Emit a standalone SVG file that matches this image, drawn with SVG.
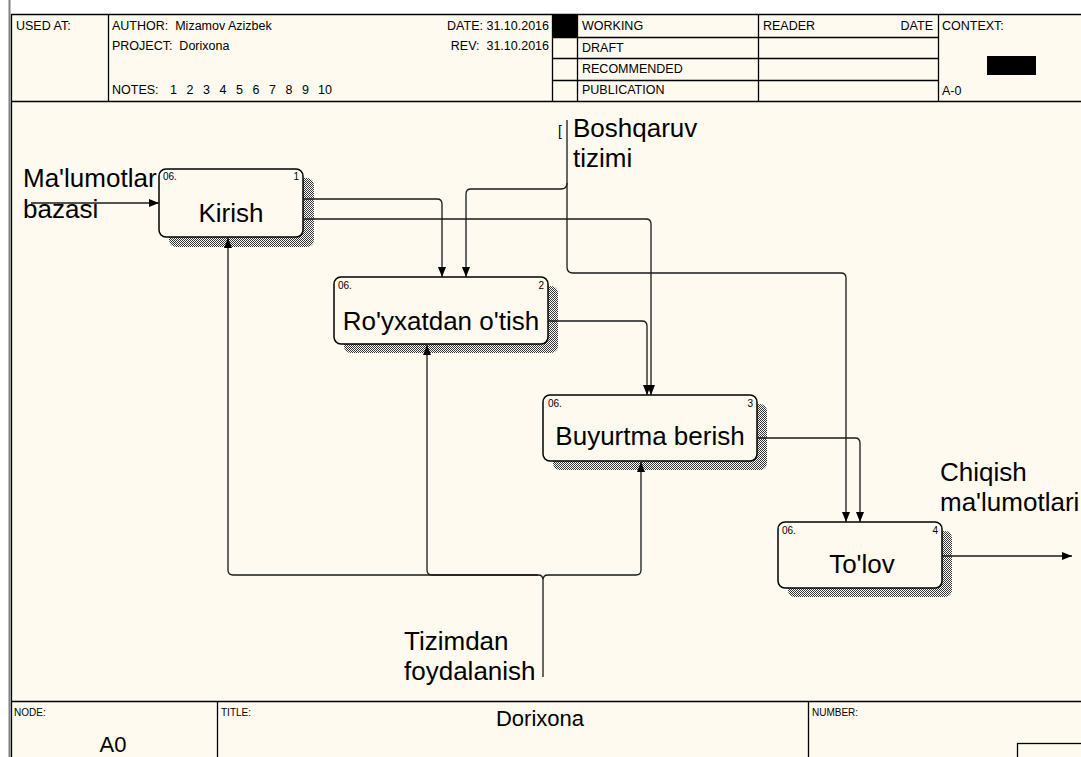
<svg xmlns="http://www.w3.org/2000/svg" width="1081" height="757" viewBox="0 0 1081 757">
<defs>
<style>
.t{font-family:"Liberation Sans",Arial,sans-serif;fill:#000}
.h{font-size:12.5px}
.s{font-size:10px}
.lbl{font-size:26px}
.big{font-size:22px}
.fr{stroke:#000;stroke-width:1.3;fill:none}
.box{fill:#FFFAEF;stroke:#000;stroke-width:1.5}
.sh{fill:url(#hatch)}
.c{fill:none;stroke:#1a1a1a;stroke-width:1.3}
.a{marker-end:url(#ah)}
</style>
<pattern id="hatch" width="2" height="2" patternUnits="userSpaceOnUse"><rect width="2" height="2" fill="#fff"/><rect width="1" height="1" fill="#333"/><rect x="1" y="1" width="1" height="1" fill="#333"/></pattern>
<marker id="ah" markerWidth="10" markerHeight="8" refX="10" refY="4" orient="auto" markerUnits="userSpaceOnUse"><path d="M0,0 L10,4 L0,8 z" fill="#000"/></marker>
</defs>
<rect width="1081" height="757" fill="#fff"/>
<rect x="11" y="14" width="1070" height="743" fill="#FFFAEF"/>
<line x1="9.5" y1="0" x2="9.5" y2="757" stroke="#808080" stroke-width="2"/>
<g id="header">
<path class="fr" d="M11 14.5H1081M11 101.5H1081M11.5 14V757M108.5 14V101M552.5 14V101M577.5 14V101M758.5 14V101M938.5 14V101M552 37.5H938M552 58.5H938M552 80.5H938"/>
<rect x="552" y="14" width="25" height="23" fill="#000"/>
<rect x="987" y="56" width="49" height="19" fill="#000"/>
<text class="t h" x="16" y="30">USED AT:</text>
<text class="t h" x="112" y="30" xml:space="preserve">AUTHOR:  Mizamov Azizbek</text>
<text class="t h" x="112" y="50" xml:space="preserve">PROJECT:  Dorixona</text>
<text class="t h" x="112" y="94">NOTES:<tspan x="170">1</tspan><tspan x="186.5">2</tspan><tspan x="203">3</tspan><tspan x="219.5">4</tspan><tspan x="236">5</tspan><tspan x="252.5">6</tspan><tspan x="269">7</tspan><tspan x="285.5">8</tspan><tspan x="302">9</tspan><tspan x="318">10</tspan></text>
<text class="t h" x="549" y="30" text-anchor="end">DATE: 31.10.2016</text>
<text class="t h" x="549" y="50" text-anchor="end" xml:space="preserve">REV:  31.10.2016</text>
<text class="t h" x="582" y="30">WORKING</text>
<text class="t h" x="582" y="52">DRAFT</text>
<text class="t h" x="582" y="73">RECOMMENDED</text>
<text class="t h" x="582" y="94">PUBLICATION</text>
<text class="t h" x="763" y="30">READER</text>
<text class="t h" x="933" y="30" text-anchor="end">DATE</text>
<text class="t h" x="942" y="30">CONTEXT:</text>
<text class="t h" x="942" y="95">A-0</text>
</g>
<g id="footer">
<path class="fr" d="M11 701.5H1081M217.5 701V757M808.5 701V757"/>
<rect x="1017.5" y="743.5" width="70" height="20" class="fr"/>
<text class="t s" x="14" y="716">NODE:</text>
<text class="t s" x="221" y="716">TITLE:</text>
<text class="t s" x="812" y="716">NUMBER:</text>
<text class="t big" x="540" y="726" text-anchor="middle">Dorixona</text>
<text class="t" style="font-size:22px" x="113" y="752" text-anchor="middle">A0</text>
</g>
<g id="node1">
<rect class="sh" x="169" y="178" width="145" height="69" rx="7"/>
<rect class="box" x="159" y="169" width="144" height="68" rx="7"/>
<text class="t s" x="163" y="180">06.</text>
<text class="t s" x="299" y="180" text-anchor="end">1</text>
<text class="t lbl" x="231" y="222" text-anchor="middle">Kirish</text>
</g>
<g id="node2">
<rect class="sh" x="344" y="286" width="214" height="67" rx="7"/>
<rect class="box" x="334" y="277" width="214" height="67" rx="7"/>
<text class="t s" x="338" y="289">06.</text>
<text class="t s" x="544" y="289" text-anchor="end">2</text>
<text class="t lbl" x="441" y="330" text-anchor="middle">Ro'yxatdan o'tish</text>
</g>
<g id="node3">
<rect class="sh" x="553" y="404" width="214" height="66" rx="7"/>
<rect class="box" x="543" y="395" width="214" height="66" rx="7"/>
<text class="t s" x="548" y="407">06.</text>
<text class="t s" x="753" y="407" text-anchor="end">3</text>
<text class="t lbl" x="650" y="445" text-anchor="middle">Buyurtma berish</text>
</g>
<g id="node4">
<rect class="sh" x="788" y="531" width="164" height="66" rx="7"/>
<rect class="box" x="778" y="522" width="164" height="66" rx="7"/>
<text class="t s" x="782" y="534">06.</text>
<text class="t s" x="938" y="534" text-anchor="end">4</text>
<text class="t lbl" x="862" y="573" text-anchor="middle">To'lov</text>
</g>
<g id="connectors">
<path class="c a" d="M31 203H159"/>
<path class="c a" d="M303 199H437Q442 199 442 204V277"/>
<path class="c a" d="M303 219H646Q651 219 651 224V395"/>
<path class="c a" d="M548 321H642Q647 321 647 326V395"/>
<path class="c a" d="M567 120V267Q567 273 573 273H841Q846 273 846 278V522"/>
<path class="c a" d="M567 183Q567 189 561 189H471Q466 189 466 194V277"/>
<path class="c a" d="M757 438H855Q860 438 860 443V522"/>
<path class="c a" d="M942 556H1072"/>
<path class="c a" d="M538 575H233Q228 575 228 570V238"/>
<path class="c a" d="M538 575H432Q427 575 427 570V345"/>
<path class="c a" d="M548 575H636Q641 575 641 570V462"/>
<path class="c" d="M538 575Q543 575 543 580V677M548 575Q543 575 543 580"/>
</g>
<g id="labels">
<text class="t lbl" x="23" y="187">Ma'lumotlar</text>
<text class="t lbl" x="23" y="218">bazasi</text>
<text class="t" style="font-size:14px" x="558" y="136">[</text>
<text class="t lbl" x="573" y="137">Boshqaruv</text>
<text class="t lbl" x="573" y="167">tizimi</text>
<text class="t lbl" x="940" y="481">Chiqish</text>
<text class="t lbl" x="940" y="511">ma'lumotlari</text>
<text class="t lbl" x="404" y="650">Tizimdan</text>
<text class="t lbl" x="404" y="680">foydalanish</text>
</g>
</svg>
